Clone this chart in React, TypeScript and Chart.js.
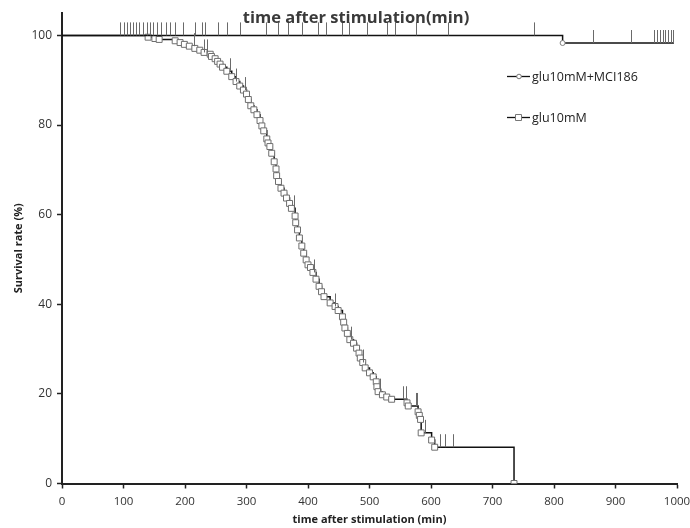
import React, { useEffect, useRef } from 'react';
import { Chart, registerables } from 'chart.js';

Chart.register(...registerables);

// ---------- data ----------
const chartTitle = 'time after stimulation(min)';
const xAxisTitle = 'time after stimulation (min)';
const yAxisTitle = 'Survival rate (%)';
const seriesNames = ['glu10mM+MCI186', 'glu10mM'];

const xMin = 0;
const xMax = 1000;
const xStep = 100;
const yMin = 0;
const yMax = 105;
const yStep = 20;

// glu10mM + MCI186 (Kaplan-Meier events)
const mciTimes = [0, 814, 995];
const mciSurvival = [100, 98.3, 98.3];
const mciCensored = [
  95, 100, 105, 110, 115, 121, 126, 131, 138, 143, 148, 154, 161, 169, 175, 184,
  197, 217, 227, 232, 253, 269, 289, 332, 351, 367, 390, 416, 430, 456, 466, 496,
  528, 541, 575, 627, 768, 863, 926, 962, 967, 972, 977, 981, 986, 990, 994,
];

// glu10mM (Kaplan-Meier events)
const gluTimes = [
  0, 140, 151, 158, 184, 192, 199, 207, 216, 224, 231, 241, 243, 249, 253, 257,
  261, 268, 276, 283, 289, 295, 300, 303, 307, 312, 317, 322, 325, 328, 333, 335,
  338, 341, 345, 348, 349, 352, 356, 361, 365, 370, 373, 379, 380, 383, 386, 390,
  393, 397, 400, 404, 408, 413, 418, 422, 426, 436, 444, 449, 456, 458, 460, 464,
  468, 474, 479, 483, 485, 489, 493, 500, 506, 511, 512, 514, 521, 528, 536, 561,
  563, 579, 581, 583, 584, 601, 606, 735,
];
const gluSurvival = [
  100, 99.6, 99.3, 99.1, 98.8, 98.4, 98.0, 97.6, 97.1, 96.7, 96.2, 95.8, 95.3, 94.8, 94.2, 93.6,
  92.9, 92.0, 90.8, 89.7, 88.7, 87.8, 86.9, 85.7, 84.3, 83.4, 82.3, 81.0, 79.8, 78.7, 76.9, 76.0,
  75.2, 73.7, 71.8, 70.2, 68.7, 67.4, 65.9, 64.8, 63.7, 62.5, 61.4, 59.7, 58.2, 56.6, 54.8, 53.0,
  51.4, 49.9, 48.8, 48.2, 47.1, 45.6, 44.0, 42.8, 41.7, 40.3, 39.5, 38.6, 37.2, 36.0, 34.7, 33.5,
  32.1, 31.3, 30.2, 29.1, 28.0, 27.0, 25.8, 24.7, 23.8, 22.7, 21.6, 20.5, 19.8, 19.3, 18.8, 18.0,
  17.3, 16.0, 15.2, 14.3, 11.3, 9.7, 8.1, 0,
];
const gluCensored = [
  215, 231, 236, 273, 283, 298, 377, 409, 444, 470, 489, 517, 555, 559, 576, 578,
  590, 615, 623, 635,
];

// ---------- helpers ----------
const toPoints = (ts: number[], vs: number[]) => ts.map((t, i) => ({ x: t, y: vs[i] }));

function survivalAt(ts: number[], vs: number[], t: number) {
  let v = vs[0];
  for (let i = 0; i < ts.length; i++) if (ts[i] <= t) v = vs[i];
  return v;
}

const FONT = '"Open Sans", "DejaVu Sans", sans-serif';

const censorPlugin = {
  id: 'censorTicks',
  afterDatasetsDraw(chart: any) {
    const { ctx, scales } = chart;
    const xs = scales.x;
    const ys = scales.y;
    ctx.save();
    ctx.strokeStyle = '#6a6a6a';
    ctx.lineWidth = 1;
    const draw = (ts: number[], vs: number[], cs: number[]) => {
      cs.forEach((t) => {
        const px = Math.round(xs.getPixelForValue(t)) + 0.5;
        const py = ys.getPixelForValue(survivalAt(ts, vs, t));
        ctx.beginPath();
        ctx.moveTo(px, py);
        ctx.lineTo(px, py - 13);
        ctx.stroke();
      });
    };
    draw(mciTimes, mciSurvival, mciCensored);
    draw(gluTimes, gluSurvival, gluCensored);
    ctx.restore();
  },
};

const overlayPlugin = {
  id: 'overlay',
  afterDraw(chart: any) {
    const { ctx } = chart;
    ctx.save();
    // title
    ctx.font = `bold 16.5px ${FONT}`;
    ctx.fillStyle = '#3a3a3a';
    ctx.textAlign = 'center';
    ctx.textBaseline = 'middle';
    ctx.fillText(chartTitle, 356, 18);

    // legend
    ctx.font = `12.5px ${FONT}`;
    ctx.textAlign = 'left';
    const rows = [
      { y: 76, label: seriesNames[0], shape: 'circle' },
      { y: 117, label: seriesNames[1], shape: 'rect' },
    ];
    rows.forEach((r) => {
      ctx.strokeStyle = '#111';
      ctx.lineWidth = 1.3;
      ctx.beginPath();
      ctx.moveTo(507, r.y + 0.5);
      ctx.lineTo(530, r.y + 0.5);
      ctx.stroke();
      ctx.fillStyle = '#fff';
      ctx.strokeStyle = '#777';
      ctx.lineWidth = 1;
      ctx.beginPath();
      if (r.shape === 'circle') {
        ctx.arc(519, r.y + 0.5, 2.3, 0, Math.PI * 2);
      } else {
        ctx.rect(515.5, r.y - 2.5, 6, 6);
      }
      ctx.fill();
      ctx.stroke();
      ctx.fillStyle = '#222';
      ctx.fillText(r.label, 532, r.y + 1);
    });
    ctx.restore();
  },
};

export default function App() {
  const ref = useRef<HTMLCanvasElement | null>(null);

  useEffect(() => {
    if (!ref.current) return;
    const gluPts = toPoints(gluTimes, gluSurvival);
    const mciPts = toPoints(mciTimes, mciSurvival);
    const chart = new Chart(ref.current, {
      type: 'line',
      data: {
        datasets: [
          {
            label: seriesNames[0],
            data: mciPts,
            stepped: 'before',
            borderColor: '#111',
            borderWidth: 1.5,
            pointStyle: 'circle',
            pointRadius: mciPts.map((_, i) => (i === 1 ? 2.5 : 0)),
            pointBackgroundColor: '#fff',
            pointBorderColor: '#808080',
            pointBorderWidth: 1,
            fill: false,
          },
          {
            label: seriesNames[1],
            data: gluPts,
            stepped: 'before',
            borderColor: '#111',
            borderWidth: 1.5,
            pointStyle: 'rect',
            pointRadius: gluPts.map((_, i) => (i === 0 ? 0 : 4.2)),
            pointBackgroundColor: '#fff',
            pointBorderColor: '#6e6e6e',
            pointBorderWidth: 1,
            fill: false,
          },
        ],
      },
      options: {
        responsive: false,
        animation: false,
        events: [],
        layout: { padding: { top: 13, right: 13, left: 0, bottom: 0 } },
        plugins: {
          legend: { display: false },
          title: { display: false },
          tooltip: { enabled: false },
        },
        scales: {
          x: {
            type: 'linear',
            min: xMin,
            max: xMax,
            afterFit: (s: any) => {
              s.height = 44.5;
              s.paddingRight = 0;
              s.paddingLeft = 0;
            },
            ticks: {
              stepSize: xStep,
              color: '#333',
              font: { family: FONT, size: 11.5 },
              padding: 6,
              maxRotation: 0,
              callback: (v: any) => String(v),
            },
            grid: {
              drawOnChartArea: false,
              drawTicks: true,
              tickLength: 5,
              tickColor: '#222',
              tickWidth: 1.5,
            },
            border: { color: '#222', width: 2 },
            title: {
              display: true,
              text: xAxisTitle,
              color: '#222',
              font: { family: FONT, size: 11, weight: 'bold' },
              padding: { top: 0, bottom: 2 },
            },
          },
          y: {
            type: 'linear',
            min: yMin,
            max: yMax,
            afterFit: (s: any) => {
              s.width = 62;
              s.paddingTop = 0;
              s.paddingBottom = 0;
            },
            ticks: {
              stepSize: yStep,
              includeBounds: false,
              color: '#333',
              font: { family: FONT, size: 12 },
              padding: 5,
              callback: (v: any) => String(v),
            },
            grid: {
              drawOnChartArea: false,
              drawTicks: true,
              tickLength: 5,
              tickColor: '#222',
              tickWidth: 1.5,
            },
            border: { color: '#222', width: 2 },
            title: {
              display: true,
              text: yAxisTitle,
              color: '#222',
              font: { family: FONT, size: 11, weight: 'bold' },
              padding: { top: 12, bottom: 0 },
            },
          },
        },
      },
      plugins: [censorPlugin, overlayPlugin],
    } as any);
    return () => chart.destroy();
  }, []);

  return (
    <div style={{ position: 'absolute', left: 0, top: 0, width: 690, height: 528, background: '#fff' }}>
      <canvas ref={ref} width={690} height={528} style={{ display: 'block' }} />
    </div>
  );
}
